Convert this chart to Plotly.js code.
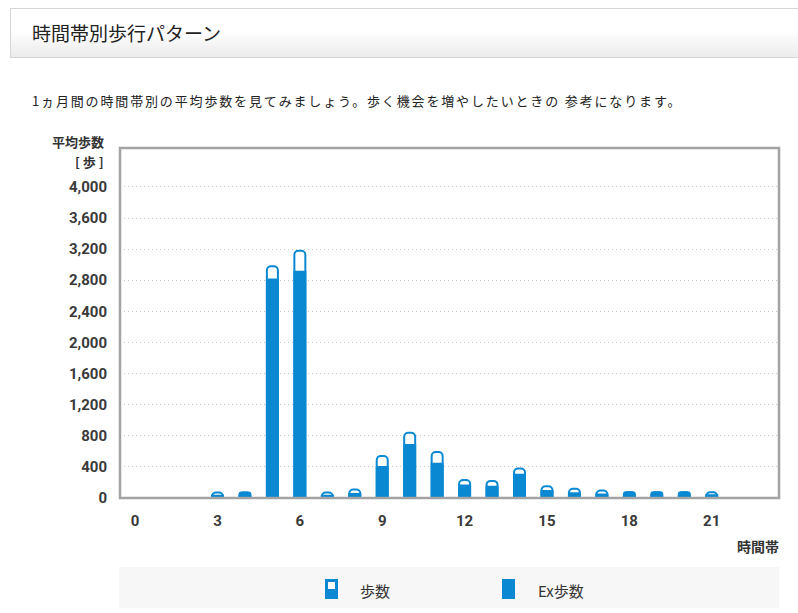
<!DOCTYPE html>
<html>
<head>
<meta charset="utf-8">
<script src="https://cdn.plot.ly/plotly-3.0.1.min.js"></script>
<style>
  body { margin: 0; background: #fff; width: 798px; height: 613px; overflow: hidden; position: relative; }
  #head {
    position: absolute; left: 10px; top: 8px; width: 800px; height: 48px;
    border: 1px solid #d6d6d6;
    background: linear-gradient(#ffffff 45%, #ebebeb);
  }
  #head span {
    position: absolute; left: 21px; top: 11px;
    font-family: "Noto Sans CJK JP"; font-size: 19px; color: #222; line-height: 26px;
  }
  #intro {
    position: absolute; left: 32px; top: 92px;
    font-family: "Noto Sans CJK JP"; font-size: 13px; color: #222; letter-spacing: 1.85px;
    line-height: 18px; white-space: nowrap;
  }
  #myPlot { position: absolute; left: 0; top: 0; width: 798px; height: 613px; }
</style>
</head>
<body>
<div id="head"><span>時間帯別歩行パターン</span></div>
<div id="intro">1ヵ月間の時間帯別の平均歩数を見てみましょう。歩く機会を増やしたいときの 参考になります。</div>
<div id="myPlot"></div>
<script>
let hours = [0,1,2,3,4,5,6,7,8,9,10,11,12,13,14,15,16,17,18,19,20,21,22,23];
let steps = [0,0,0,70,70,2980,3180,70,110,540,840,590,230,220,380,150,120,95,75,75,75,75,0,0];
let exSteps = [0,0,0,30,70,2810,2910,30,50,400,680,440,160,145,300,90,60,45,75,75,75,35,0,0];
let xTicks = [0,3,6,9,12,15,18,21];
let yTicks = [0,400,800,1200,1600,2000,2400,2800,3200,3600,4000];

let blue = '#0a89d2';

// plot area in pixels: left 120, right 779, top 148, bottom 498
function px(x) { return (x - 120) / 659; }
function py(y) { return (498 - y) / 350; }

var trace1 = {
  x: hours,
  y: steps,
  name: '歩数',
  type: 'bar',
  width: 0.4,
  marker: { color: '#ffffff', line: { color: blue, width: 2 }, cornerradius: 4 },
  showlegend: false,
  hoverinfo: 'skip'
};
var trace2 = {
  x: hours,
  y: exSteps,
  name: 'Ex歩数',
  type: 'bar',
  width: 0.4,
  marker: { color: blue, line: { color: blue, width: 2 }, cornerradius: 2 },
  showlegend: false,
  hoverinfo: 'skip'
};

var tickFont = { family: 'Roboto, sans-serif', size: 15, color: '#3a3a3a', weight: 'bold' };
var jpFont = { family: 'Noto Sans CJK JP', size: 13, color: '#333', weight: 'bold' };

var layout = {
  width: 798,
  height: 613,
  margin: { l: 120, r: 19, t: 148, b: 115 },
  paper_bgcolor: 'rgba(0,0,0,0)',
  plot_bgcolor: '#ffffff',
  barmode: 'overlay',
  xaxis: {
    range: [-0.55, 23.45],
    tickvals: xTicks,
    ticks: '',
    ticklabelstandoff: 12,
    showgrid: false,
    zeroline: false,
    showline: false,
    tickfont: tickFont
  },
  yaxis: {
    range: [0, 4500],
    tickvals: yTicks,
    tickformat: ',d',
    ticks: '',
    ticklabelstandoff: 12,
    showgrid: true,
    gridcolor: '#c8c8c8',
    griddash: '1px,3px',
    gridwidth: 1,
    zeroline: false,
    showline: false,
    tickfont: tickFont
  },
  shapes: [
    { type: 'rect', xref: 'paper', yref: 'paper', x0: 0, x1: 1, y0: 0, y1: 1,
      line: { color: '#a3a3a3', width: 2.5 }, fillcolor: 'rgba(0,0,0,0)' },
    // legend panel
    { type: 'rect', xref: 'paper', yref: 'paper', x0: px(119), x1: px(779), y0: py(608), y1: py(567),
      line: { width: 0 }, fillcolor: '#f7f7f7' },
    // 歩数 icon
    { type: 'rect', xref: 'paper', yref: 'paper', x0: px(325), x1: px(338), y0: py(599), y1: py(579),
      line: { width: 0 }, fillcolor: blue },
    { type: 'rect', xref: 'paper', yref: 'paper', x0: px(328), x1: px(335), y0: py(589), y1: py(582),
      line: { width: 0 }, fillcolor: '#ffffff' },
    // Ex歩数 icon
    { type: 'rect', xref: 'paper', yref: 'paper', x0: px(502), x1: px(515), y0: py(599), y1: py(579),
      line: { width: 0 }, fillcolor: blue }
  ],
  annotations: [
    { text: '平均歩数', xref: 'paper', yref: 'paper', x: px(106), y: py(141), xanchor: 'right', yanchor: 'middle',
      showarrow: false, font: jpFont },
    { text: '[ 歩 ]', xref: 'paper', yref: 'paper', x: px(106), y: py(161), xanchor: 'right', yanchor: 'middle',
      showarrow: false, font: jpFont },
    { text: '時間帯', xref: 'paper', yref: 'paper', x: px(781), y: py(546), xanchor: 'right', yanchor: 'middle',
      showarrow: false, font: { family: 'Noto Sans CJK JP', size: 14, color: '#333', weight: 'bold' } },
    { text: '歩数', xref: 'paper', yref: 'paper', x: px(358), y: py(590), xanchor: 'left', yanchor: 'middle',
      showarrow: false, font: { family: 'Noto Sans CJK JP', size: 15, color: '#333' } },
    { text: 'Ex歩数', xref: 'paper', yref: 'paper', x: px(536), y: py(590), xanchor: 'left', yanchor: 'middle',
      showarrow: false, font: { family: 'Noto Sans CJK JP', size: 15, color: '#333' } }
  ]
};

Plotly.newPlot('myPlot', [trace1, trace2], layout, { staticPlot: true, displayModeBar: false });
</script>
</body>
</html>
